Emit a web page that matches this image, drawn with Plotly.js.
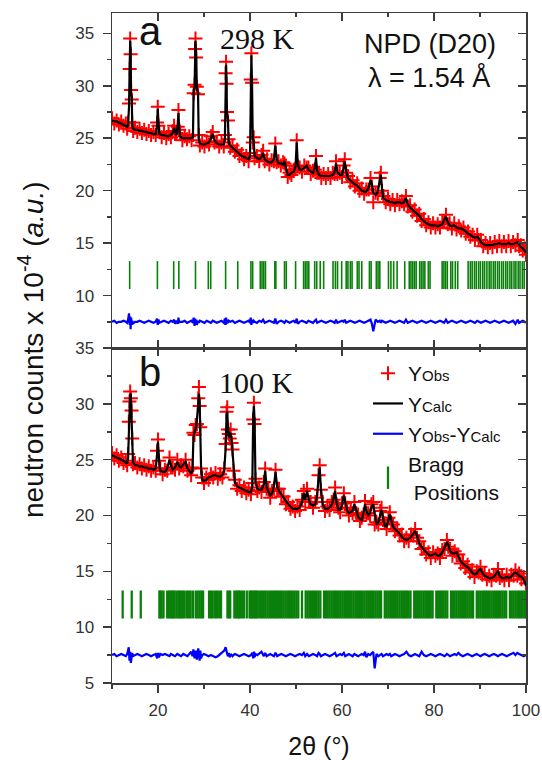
<!DOCTYPE html>
<html><head><meta charset="utf-8">
<script src="https://cdn.plot.ly/plotly-3.0.1.min.js"></script>
<style>html,body{margin:0;padding:0;background:#fff}</style>
</head><body><div id="chart" style="width:542px;height:760px"></div>
<script>
// ---------- Panel a (298 K) ----------
const twoThetaA = [
10,10.5,11,11.5,12,12.5,13,13.3,13.5,13.7,
13.85,13.95,14.05,14.15,14.3,14.4,14.6,15,15.5,16,
16.5,17,17.5,18,18.5,19,19.5,19.8,19.95,20.1,
20.3,20.8,21.3,21.8,22.3,22.8,23.2,23.5,23.7,24,
24.3,24.45,24.6,24.8,25.3,25.8,26.3,26.8,27.3,27.6,
27.75,27.95,28.05,28.15,28.3,28.45,28.7,28.85,29.1,29.6,
30.1,30.6,31.1,31.5,31.9,32.3,32.8,33.3,33.8,34.3,
34.55,34.7,34.8,34.9,35,35.2,35.35,35.7,36.2,36.7,
37.2,37.7,38.2,38.7,39.2,39.7,40,40.15,40.3,40.45,
40.6,40.8,41,41.5,42,42.5,42.85,43.2,43.7,44.2,
44.7,45.2,45.5,45.8,46.2,46.7,47.2,47.5,47.8,48.2,
48.6,49,49.5,49.9,50.15,50.4,50.8,51.3,51.8,52.3,
52.7,53.2,53.7,54.1,54.35,54.6,55,55.5,56,56.5,
57,57.5,58,58.4,58.7,59,59.5,60,60.35,60.6,
60.9,61.3,61.8,62.3,62.8,63.3,63.8,64.3,64.8,65.3,
65.8,66.2,66.5,66.8,67.3,67.8,68.2,68.45,68.7,69,
69.5,70,70.5,71,71.5,72,72.5,73,73.5,73.9,
74.3,74.8,75.3,75.8,76.3,76.8,77.3,77.8,78.3,78.8,
79.3,79.8,80.3,80.8,81.3,81.8,82.2,82.6,83,83.4,
83.9,84.4,84.9,85.4,85.9,86.4,86.9,87.4,87.9,88.4,
88.9,89.4,89.7,90.2,90.7,91.2,91.7,92.2,92.7,93.2,
93.7,94.2,94.7,95.2,95.7,96.2,96.7,97.2,97.7,98.2,
98.5,98.9,99.3,99.7,100];
const obsA = [
26.9,26.4,26.7,26.3,26.6,26.2,26.4,25.9,26.5,28.3,
31.6,34.5,33.0,29.6,28.7,26.5,25.7,26.0,25.6,25.9,
25.5,25.8,25.4,25.7,25.3,25.6,25.3,26.5,28.0,26.2,
25.6,25.1,25.5,25.0,25.4,25.1,25.7,26.2,25.4,25.5,
26.1,27.7,25.8,25.4,24.8,25.2,24.9,25.2,24.8,25.3,
29.3,30.1,33.5,34.5,32.7,29.9,29.2,25.3,24.3,24.6,
24.2,24.7,24.4,25.2,25.6,24.6,24.7,24.2,24.6,24.2,
25.3,31.2,32.3,30.2,27.5,26.7,24.9,24.1,24.3,23.7,
23.9,23.3,23.5,23.0,23.3,22.8,23.6,30.6,33.1,30.3,
24.6,25.1,23.1,23.3,22.8,23.4,23.8,22.8,23.0,22.5,
22.9,22.8,24.5,22.7,22.8,22.4,22.7,22.6,22.4,21.3,
21.7,21.5,22.0,22.1,24.8,22.3,22.2,21.8,22.4,22.2,
22.2,21.6,21.9,22.0,23.3,21.7,21.7,21.2,21.6,21.2,
21.6,21.2,21.7,21.6,22.8,21.6,21.7,21.3,22.4,23.0,
21.7,21.4,20.8,21.0,20.4,20.7,20.0,20.2,19.7,20.1,
20.1,21.2,20.4,18.9,19.8,19.7,21.2,21.7,20.0,19.5,
18.9,19.2,18.7,19.1,18.6,19.1,18.7,19.0,18.7,19.5,
18.5,18.6,18.0,18.2,17.6,17.8,17.1,17.3,16.7,17.0,
16.5,16.9,16.5,16.8,16.5,17.0,17.0,17.7,16.8,16.9,
16.4,16.9,16.3,16.6,16.2,16.5,15.9,16.1,15.6,15.8,
15.3,15.8,15.3,15.3,14.7,15.0,14.6,15.0,14.6,15.1,
14.7,15.2,14.7,15.1,14.7,15.2,14.7,15.1,14.8,15.3,
14.7,14.8,14.3,14.5,13.9];
const calcA = [
26.7,26.6,26.6,26.5,26.4,26.3,26.2,26.1,26.3,28.0,
32.0,34.3,33.5,29.2,29.0,26.2,25.9,25.8,25.8,25.7,
25.7,25.6,25.6,25.5,25.5,25.4,25.4,26.2,27.8,26.5,
25.4,25.3,25.3,25.2,25.2,25.3,25.5,26.0,25.6,25.3,
26.3,27.4,26.0,25.2,25.0,25.0,25.0,25.0,25.0,25.1,
29.6,29.8,33.8,34.3,33.0,29.6,29.5,25.0,24.5,24.4,
24.4,24.5,24.6,25.0,25.4,24.8,24.5,24.4,24.4,24.4,
25.0,31.5,32.0,30.5,27.2,27.0,24.6,24.3,24.1,23.9,
23.7,23.5,23.3,23.2,23.1,23.0,23.3,31.0,32.9,30.0,
24.9,24.8,23.3,23.1,23.0,23.2,23.6,23.0,22.8,22.7,
22.7,23.0,24.3,23.0,22.6,22.6,22.5,22.8,22.2,21.5,
21.5,21.7,21.8,22.3,24.6,22.5,22.0,22.0,22.2,22.4,
22.0,21.8,21.7,22.2,23.1,21.9,21.5,21.4,21.4,21.4,
21.4,21.4,21.5,21.8,22.6,21.8,21.5,21.5,22.2,22.8,
21.9,21.2,21.0,20.8,20.6,20.5,20.2,20.0,19.9,19.9,
20.3,21.0,20.6,19.8,19.6,19.9,21.0,21.5,20.2,19.3,
19.1,19.0,18.9,18.9,18.8,18.9,18.9,18.8,18.9,19.3,
18.7,18.4,18.2,18.0,17.8,17.6,17.3,17.1,16.9,16.8,
16.7,16.7,16.7,16.6,16.7,16.8,17.2,17.5,17.0,16.7,
16.6,16.7,16.5,16.4,16.4,16.3,16.1,15.9,15.8,15.6,
15.5,15.6,15.5,15.1,14.9,14.8,14.8,14.8,14.8,14.9,
14.9,15.0,14.9,14.9,14.9,15.0,14.9,14.9,15.0,15.1,
14.9,14.6,14.5,14.3,14.1];
const diffA = [
7.5,7.6,7.4,7.5,7.5,7.6,7.5,7.4,7.7,8.3,
7.2,8.0,6.8,7.9,7.2,7.6,7.3,7.5,7.5,7.6,
7.5,7.4,7.5,7.6,7.5,7.4,7.5,7.8,7.2,7.7,
7.4,7.5,7.6,7.5,7.4,7.6,7.5,7.7,7.3,7.6,
7.3,7.9,7.4,7.5,7.5,7.6,7.4,7.5,7.6,7.4,
7.9,7.1,7.8,7.3,7.7,7.2,7.6,7.4,7.6,7.5,
7.4,7.6,7.5,7.4,7.6,7.5,7.4,7.5,7.6,7.4,
7.8,7.2,7.9,7.3,7.7,7.4,7.6,7.5,7.6,7.4,
7.5,7.6,7.5,7.4,7.5,7.6,7.4,7.9,7.2,7.7,
7.4,7.6,7.5,7.4,7.6,7.5,7.7,7.4,7.5,7.6,
7.5,7.4,7.8,7.3,7.5,7.6,7.5,7.4,7.6,7.5,
7.4,7.5,7.6,7.4,7.8,7.3,7.5,7.6,7.5,7.4,
7.6,7.5,7.4,7.6,7.7,7.4,7.5,7.6,7.5,7.4,
7.5,7.6,7.5,7.4,7.7,7.4,7.5,7.6,7.5,7.7,
7.4,7.5,7.6,7.5,7.4,7.5,7.6,7.5,7.4,7.5,
7.6,7.7,7.3,6.6,7.7,7.5,7.6,7.4,7.6,7.5,
7.4,7.5,7.6,7.5,7.4,7.5,7.6,7.5,7.4,7.7,
7.4,7.5,7.6,7.5,7.4,7.5,7.6,7.5,7.4,7.5,
7.6,7.5,7.4,7.5,7.6,7.5,7.4,7.7,7.4,7.5,
7.6,7.5,7.4,7.5,7.6,7.5,7.4,7.5,7.6,7.5,
7.4,7.6,7.5,7.4,7.5,7.6,7.5,7.4,7.5,7.6,
7.5,7.4,7.5,7.6,7.5,7.4,7.5,7.6,7.3,7.7,
7.4,7.5,7.6,7.5,7.4];
const braggA = [13.84,19.87,23.41,24.53,28.15,30.94,31.46,34.70,37.34,40.20,40.58,42.23,42.61,42.99,43.36,
45.40,45.62,47.50,47.88,49.91,51.65,52.02,52.40,52.78,54.06,54.51,55.26,56.01,58.05,58.57,59.03,59.93,
60.91,61.29,61.81,62.19,63.32,63.70,64.30,65.96,66.33,67.46,67.84,68.22,70.10,70.63,71.23,71.98,73.64,
74.62,74.99,75.37,75.75,76.12,76.88,77.25,77.63,78.01,78.76,79.14,81.77,82.15,82.52,82.90,83.65,84.03,
84.63,85.16,87.42,87.9,88.3,88.8,89.2,89.7,90.1,90.6,91.0,91.5,92.0,92.4,92.9,93.3,93.8,94.2,94.7,95.1,
95.6,96.0,96.5,96.9,97.4,97.8,98.3,98.7,99.2,99.6];
const braggLevelA = 11.95;

// ---------- Panel b (100 K) ----------
const twoThetaB = [
10,10.5,11,11.5,12,12.5,13,13.3,13.5,13.65,
13.8,13.95,14.1,14.25,14.4,14.55,15,15.5,16,16.5,
17,17.5,18,18.5,19,19.5,19.8,20,20.2,20.5,
21,21.5,22,22.5,22.8,23.2,23.7,24.2,24.6,25,
25.5,26,26.4,26.8,27.2,27.5,27.7,27.95,28.2,28.45,
28.75,28.9,29.05,29.2,29.35,29.6,30,30.5,31,31.5,
32,32.5,33,33.5,34,34.4,34.7,34.9,35.05,35.2,
35.4,35.6,35.8,36,36.2,36.4,36.7,37.2,37.7,38.2,
38.7,39.2,39.7,40.2,40.5,40.7,40.85,41,41.2,41.6,
42,42.5,43,43.3,43.6,44,44.4,44.8,45.2,45.55,
45.9,46.3,46.8,47.3,47.8,48.3,48.8,49.3,49.8,50.3,
50.8,51.3,51.7,52,52.4,52.8,53.2,53.7,54.2,54.6,
54.9,55.15,55.4,55.8,56.3,56.8,57.3,57.8,58.2,58.5,
58.8,59.2,59.6,60,60.4,60.7,61.1,61.5,61.9,62.3,
62.7,63.1,63.5,63.9,64.3,64.7,65,65.3,65.7,66.1,
66.4,66.8,67.1,67.5,67.9,68.3,68.6,68.9,69.3,69.7,
70.1,70.4,70.7,71.1,71.5,72,72.5,73,73.5,74,
74.5,75,75.5,75.9,76.3,76.8,77.3,77.8,78.3,78.8,
79.3,79.8,80.3,80.8,81.3,81.8,82.3,82.8,83.1,83.5,
84,84.5,84.9,85.3,85.8,86.3,86.8,87.3,87.8,88.3,
88.8,89.3,89.7,90.1,90.5,91,91.5,92,92.5,93,
93.5,93.9,94.3,94.8,95.3,95.8,96.3,96.8,97.3,97.7,
98.1,98.5,99,99.5,100];
const obsB = [
25.6,25.1,25.4,24.9,25.2,24.7,24.9,24.5,25.5,28.4,
30.2,31.1,30.5,29.4,26.9,24.6,24.7,24.3,24.6,24.2,
24.5,24.1,24.4,24.0,24.3,24.0,25.8,26.8,24.9,24.2,
23.7,24.1,24.0,25.2,24.3,24.3,24.1,25.0,24.2,24.5,
24.4,25.0,24.0,24.2,23.6,24.3,27.4,27.2,28.1,28.2,
30.5,31.5,29.8,27.9,24.2,23.4,22.9,23.4,23.2,23.7,
23.4,23.8,23.3,23.7,23.4,24.2,26.4,29.3,29.7,27.7,
27.3,26.9,27.7,26.5,25.9,24.0,23.2,22.4,22.7,22.2,
22.5,22.0,22.3,21.9,22.9,28.6,30.1,28.2,23.3,22.2,
22.5,22.1,23.0,24.2,22.4,22.3,21.6,22.2,22.4,24.1,
22.4,22.4,21.7,21.7,21.0,21.2,20.6,20.8,20.4,20.8,
20.5,21.4,22.2,21.2,22.4,21.2,21.2,20.7,21.2,21.6,
23.6,24.5,22.3,21.2,20.4,20.8,20.5,21.2,21.4,22.5,
21.0,20.7,20.3,21.1,22.0,21.1,20.7,20.0,20.5,20.2,
21.2,20.2,20.1,19.5,19.8,20.1,21.3,20.2,20.2,20.0,
21.0,21.2,19.2,19.4,19.2,20.4,20.7,19.6,19.3,18.8,
19.8,20.3,19.4,19.2,18.6,18.8,18.2,18.3,17.7,18.0,
17.7,18.3,18.2,18.8,18.0,17.7,17.0,17.1,16.5,16.7,
16.2,16.7,16.4,16.6,16.2,16.9,17.0,17.8,17.2,17.0,
16.4,16.8,16.5,16.5,15.7,15.9,15.3,15.6,14.9,15.1,
14.5,15.0,14.9,15.4,14.7,14.8,14.3,14.6,14.2,14.7,
14.6,15.2,14.4,14.6,14.2,14.7,14.2,14.7,14.6,15.1,
14.6,14.8,14.3,14.5,13.9];
const calcB = [
25.4,25.3,25.2,25.1,25.0,24.9,24.7,24.7,25.2,28.0,
30.5,30.9,30.8,29.0,26.5,24.8,24.5,24.5,24.4,24.4,
24.3,24.3,24.2,24.2,24.1,24.2,25.5,26.6,25.2,24.0,
23.9,23.9,24.2,25.0,24.5,24.1,24.3,24.8,24.4,24.3,
24.6,24.8,24.2,24.0,23.8,24.0,27.0,27.5,27.8,28.5,
30.0,30.9,30.2,27.5,24.5,23.2,23.1,23.2,23.4,23.5,
23.6,23.6,23.5,23.5,23.6,24.0,26.0,29.0,29.3,28.0,
27.0,27.2,27.4,26.8,25.6,24.2,23.0,22.6,22.5,22.4,
22.3,22.2,22.1,22.1,22.6,29.0,29.8,28.5,23.0,22.4,
22.3,22.3,22.8,24.0,22.6,22.1,21.8,22.0,22.6,23.9,
22.6,22.2,21.9,21.5,21.2,21.0,20.8,20.6,20.6,20.6,
20.7,21.2,22.0,21.4,22.2,21.4,21.0,20.9,21.0,21.8,
23.4,24.3,22.5,21.0,20.6,20.6,20.7,21.0,21.6,22.2,
21.2,20.5,20.5,20.9,21.8,21.3,20.5,20.2,20.3,20.4,
21.0,20.4,19.9,19.7,19.6,20.3,21.0,20.4,20.0,20.2,
20.8,21.0,20.1,19.2,19.4,20.2,20.5,19.8,19.1,19.0,
19.6,20.1,19.6,19.0,18.8,18.6,18.4,18.1,17.9,17.8,
17.9,18.1,18.4,18.6,18.2,17.5,17.2,16.9,16.7,16.5,
16.4,16.5,16.6,16.4,16.4,16.7,17.2,17.6,17.4,16.8,
16.6,16.6,16.7,16.3,15.9,15.7,15.5,15.4,15.1,14.9,
14.7,14.8,15.1,15.2,14.9,14.6,14.5,14.4,14.4,14.5,
14.8,15.0,14.6,14.4,14.4,14.5,14.4,14.5,14.8,14.9,
14.8,14.6,14.5,14.3,13.7];
const diffB = [
7.5,7.6,7.4,7.5,7.6,7.5,7.4,7.6,7.9,8.2,
7.0,7.8,6.8,7.3,7.7,7.4,7.5,7.6,7.5,7.4,
7.5,7.6,7.5,7.4,7.5,7.6,7.2,7.7,7.3,7.6,
7.5,7.6,7.5,7.4,7.6,7.5,7.4,7.6,7.5,7.4,
7.6,7.5,7.4,7.6,7.8,7.4,8.0,7.2,7.9,7.1,
8.1,7.6,7.0,7.9,7.2,7.5,7.6,7.5,7.4,7.5,
7.4,7.3,7.4,7.6,7.8,7.9,8.2,7.7,7.6,7.4,
7.7,7.3,7.6,7.5,7.4,7.5,7.6,7.5,7.4,7.5,
7.6,7.5,7.4,7.5,7.7,7.2,7.8,7.3,7.6,7.5,
7.6,7.8,7.4,7.7,7.4,7.5,7.6,7.5,7.4,7.7,
7.4,7.5,7.6,7.5,7.4,7.5,7.6,7.5,7.4,7.5,
7.6,7.5,7.7,7.4,7.6,7.4,7.5,7.6,7.5,7.4,
7.7,7.6,7.4,7.5,7.6,7.5,7.4,7.5,7.6,7.7,
7.4,7.5,7.6,7.5,7.7,7.4,7.5,7.6,7.5,7.4,
7.6,7.5,7.4,7.5,7.6,7.5,7.8,7.3,7.6,7.5,
7.6,7.8,6.3,7.6,7.4,7.5,7.6,7.4,7.5,7.6,
7.5,7.6,7.4,7.5,7.6,7.5,7.4,7.5,7.6,7.8,
7.5,7.4,7.5,7.6,7.5,7.4,7.8,7.5,7.4,7.5,
7.6,7.5,7.4,7.5,7.6,7.5,7.4,7.6,7.5,7.4,
7.5,7.6,7.5,7.7,7.5,7.4,7.5,7.6,7.5,7.4,
7.5,7.6,7.5,7.4,7.5,7.6,7.5,7.4,7.5,7.6,
7.5,7.4,7.5,7.6,7.5,7.4,7.5,7.6,7.7,7.5,
7.7,7.6,7.5,7.4,7.5];
const braggB = [12.32,14.29,16.25,
20.3,20.5,20.8,21.2,22.0,22.4,22.7,23.0,23.3,23.6,24.0,24.4,24.7,25.0,25.4,25.8,26.3,26.7,27.1,27.6,
28.2,28.6,29.0,29.4,29.8,31.1,31.5,31.9,32.4,32.8,33.3,33.7,35.1,35.4,35.7,36.6,37.0,37.3,37.6,37.9,
38.3,38.7,39.3,39.9,40.2,40.5,40.8,41.1,41.4,41.7,42.2,42.6,43.0,43.4,43.8,44.2,44.6,45.0,45.4,
45.7,46.1,46.5,46.9,47.3,47.7,48.1,48.5,48.9,49.3,49.7,50.1,50.5,51.3,52.1,52.5,52.9,53.3,53.7,54.1,
54.5,54.9,55.3,56.1,56.5,56.9,57.3,57.7,58.1,58.5,58.9,59.3,59.7,60.1,60.5,60.9,61.3,61.7,62.1,62.5,
62.9,63.3,63.7,64.1,64.5,64.9,65.3,65.7,66.1,66.5,66.9,67.3,67.7,68.1,68.5,69.3,69.7,70.1,70.5,70.9,
71.3,71.7,72.1,72.5,72.9,73.3,73.7,74.1,74.5,74.9,75.7,76.1,76.5,76.9,77.3,77.7,78.1,78.5,78.9,79.3,
79.7,80.5,80.9,81.3,81.7,82.1,82.5,82.9,83.7,84.1,84.5,84.9,85.3,85.7,86.1,86.5,86.9,87.3,87.7,88.1,
88.5,89.3,89.7,90.1,90.5,90.9,91.3,91.7,92.1,92.5,92.9,93.3,93.7,94.1,94.5,94.9,95.3,95.7,96.5,96.9,
97.3,97.7,98.1,98.5,98.9,99.3,99.7,100];
const braggLevelB = 12.03;

// ---------- Axis ticks ----------
const yTicksA = [10, 15, 20, 25, 30, 35];
const yTicksB = [5, 10, 15, 20, 25, 30, 35];
const xTicks = [20, 40, 60, 80, 100];

// ---------- Styling ----------
const RED = '#ff0000', BLACK = '#000000', BLUE = '#0000ff', GREEN = '#0a800a';
const SANS = 'Liberation Sans, Arial, sans-serif';
const SERIF = 'Liberation Serif, Times New Roman, serif';
const AX = '#3c3c3c';
const sub = s => '<span style="font-size:15px">' + s + '</span>';

function obsTrace(x, y, xa, ya, legend) {
  return {x, y, xaxis: xa, yaxis: ya, type: 'scatter', mode: 'markers', name: 'Y' + sub('Obs'),
    showlegend: legend, hoverinfo: 'skip',
    marker: {symbol: 'cross-thin', size: 10, color: RED, line: {color: RED, width: 2}}};
}
function calcTrace(x, y, xa, ya, legend) {
  return {x, y, xaxis: xa, yaxis: ya, type: 'scatter', mode: 'lines', name: 'Y' + sub('Calc'),
    showlegend: legend, hoverinfo: 'skip', line: {color: BLACK, width: 2.2}};
}
function diffTrace(x, y, xa, ya, legend) {
  return {x, y, xaxis: xa, yaxis: ya, type: 'scatter', mode: 'lines',
    name: 'Y' + sub('Obs') + '-Y' + sub('Calc'),
    showlegend: legend, hoverinfo: 'skip', line: {color: BLUE, width: 2.2}};
}
function braggTrace(x, level, xa, ya, legend, w) {
  return {x, y: x.map(() => level), xaxis: xa, yaxis: ya, type: 'scatter', mode: 'markers',
    name: 'Bragg<br> Positions', showlegend: legend, hoverinfo: 'skip',
    marker: {symbol: 'line-ns', size: 20, color: GREEN, line: {color: GREEN, width: w}}};
}

const data = [
  obsTrace(twoThetaA, obsA, 'x', 'y', false),
  calcTrace(twoThetaA, calcA, 'x', 'y', false),
  braggTrace(braggA, braggLevelA, 'x', 'y', false, 1.6),
  diffTrace(twoThetaA, diffA, 'x', 'y', false),
  obsTrace(twoThetaB, obsB, 'x2', 'y2', true),
  calcTrace(twoThetaB, calcB, 'x2', 'y2', true),
  diffTrace(twoThetaB, diffB, 'x2', 'y2', true),
  braggTrace(braggB, braggLevelB, 'x2', 'y2', true, 2.3),
  {x: [], y: [], xaxis: 'x3', yaxis: 'y3', type: 'scatter', showlegend: false, hoverinfo: 'skip'},
  {x: [], y: [], xaxis: 'x4', yaxis: 'y4', type: 'scatter', showlegend: false, hoverinfo: 'skip'}
];

const base = {showline: true, linecolor: AX, linewidth: 1.5, showgrid: false, zeroline: false,
  tickcolor: AX, tickwidth: 1.5, ticklen: 8, fixedrange: true,
  tickfont: {family: SANS, size: 17, color: '#333'}};
function xAx(extra, dir) {
  return Object.assign({}, base, {range: [10, 100], tickvals: xTicks, ticks: dir,
    minor: {tickmode: 'linear', tick0: 0, dtick: 10, ticks: dir, ticklen: 4, tickwidth: 1.5, tickcolor: AX}}, extra);
}
function yAx(extra, dir, vals) {
  return Object.assign({}, base, {tickvals: vals, ticks: dir,
    minor: {tickmode: 'linear', tick0: 0, dtick: 2.5, ticks: dir, ticklen: 4, tickwidth: 1.5, tickcolor: AX}}, extra);
}

const X = px => (px - 112) / 414;   // page pixel -> paper x
const Y = py => (683 - py) / 670;   // page pixel -> paper y
function label(text, px, py, size, family, extra) {
  return Object.assign({text, x: X(px), y: Y(py), xref: 'paper', yref: 'paper', showarrow: false,
    xanchor: 'center', yanchor: 'middle', font: {family, size, color: '#111'}}, extra || {});
}

const layout = {
  width: 542, height: 760,
  margin: {l: 112, r: 16, t: 13, b: 77, pad: 0},
  paper_bgcolor: '#fff', plot_bgcolor: '#fff',
  showlegend: true,
  legend: {x: X(368), y: Y(353), xanchor: 'left', yanchor: 'top', bgcolor: 'rgba(0,0,0,0)',
    font: {family: SANS, size: 21, color: '#111'}, traceorder: 'normal', itemwidth: 30, tracegroupgap: 0},
  xaxis: xAx({anchor: 'y', domain: [0, 1], showticklabels: false}, 'inside'),
  xaxis2: xAx({anchor: 'y2', domain: [0, 1], showticklabels: true, ticklabelstandoff: 3,
    title: {text: '2θ (°)', font: {family: SANS, size: 25, color: '#111'}, standoff: 22}}, 'outside'),
  xaxis3: xAx({anchor: 'y', overlaying: 'x', side: 'top', showticklabels: false}, 'inside'),
  xaxis4: xAx({anchor: 'y2', overlaying: 'x2', side: 'top', showticklabels: false}, 'inside'),
  yaxis: yAx({anchor: 'x', domain: [0.5, 1], range: [5, 36.94], ticklabelstandoff: 5}, 'outside', yTicksA),
  yaxis2: yAx({anchor: 'x2', domain: [0, 0.5], range: [5, 35], ticklabelstandoff: 5}, 'outside', yTicksB),
  yaxis3: yAx({anchor: 'x', overlaying: 'y', side: 'right', range: [5, 36.94], showticklabels: false}, 'inside', yTicksA),
  yaxis4: yAx({anchor: 'x2', overlaying: 'y2', side: 'right', range: [5, 35], showticklabels: false}, 'inside', yTicksB),
  annotations: [
    label('a', 150, 31, 40, SANS),
    label('b', 150, 372, 40, SANS),
    label('298 K', 257, 38, 30, SERIF),
    label('100 K', 256, 382, 30, SERIF),
    label('NPD (D20)', 430, 44, 27, SANS),
    label('λ = 1.54 Å', 429, 78, 27, SANS),
    label('neutron counts x 10<sup>-4</sup> (<i>a.u.</i>)', 31, 350, 28, SANS, {textangle: -90})
  ]
};

Plotly.newPlot('chart', data, layout, {staticPlot: true, displayModeBar: false});
</script></body></html>
